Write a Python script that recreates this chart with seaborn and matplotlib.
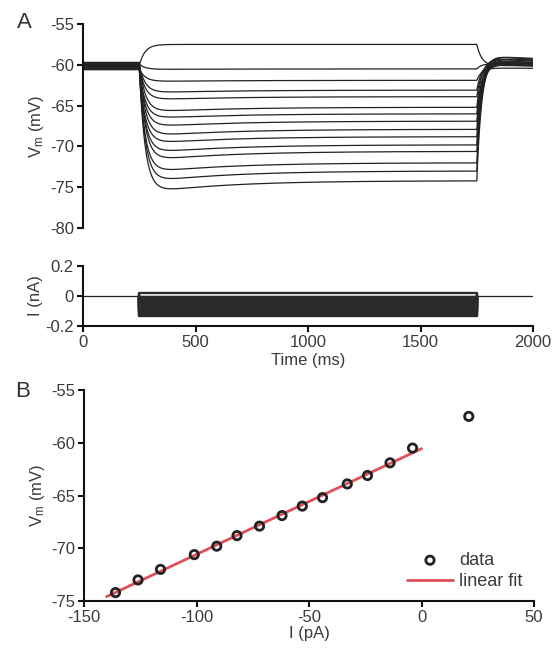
import numpy as np
import pandas as pd
import matplotlib
matplotlib.use("Agg")
import matplotlib.pyplot as plt
import seaborn as sns

# Injected current steps (pA) and steady-state membrane potential (mV)
current_pa = [-136, -126, -116, -101, -91, -82, -72, -62, -53, -44, -33, -24, -14, -4, 21]
vm_mv = [-74.2, -73.0, -72.0, -70.6, -69.8, -68.8, -67.9, -66.9, -66.0, -65.2,
         -63.9, -63.1, -61.9, -60.5, -57.5]
# Resting potential of each sweep before the step (mV)
baseline_mv = [-60.3, -60.0, -60.5, -59.8, -60.2, -60.6, -59.9, -60.1, -60.4,
               -59.7, -60.2, -60.0, -60.5, -59.9, -60.1]

step_on_ms, step_off_ms, sweep_end_ms = 250, 1750, 2000

time_ticks = [0, 500, 1000, 1500, 2000]
vm_ticks_a = [-55, -60, -65, -70, -75, -80]
i_ticks_a = [0.2, 0, -0.2]
i_ticks_b = [-150, -100, -50, 0, 50]
vm_ticks_b = [-55, -60, -65, -70, -75]

sns.set_theme(style="ticks")
plt.rcParams["font.family"] = ["Liberation Sans", "DejaVu Sans"]
plt.rcParams["mathtext.fontset"] = "custom"
plt.rcParams["mathtext.rm"] = "Liberation Sans"
plt.rcParams["mathtext.it"] = "Liberation Sans"
plt.rcParams["axes.linewidth"] = 1.5
plt.rcParams["xtick.major.width"] = 1.5
plt.rcParams["ytick.major.width"] = 1.5
plt.rcParams["xtick.major.size"] = 4
plt.rcParams["ytick.major.size"] = 4
plt.rcParams["xtick.major.pad"] = 2.5
plt.rcParams["ytick.major.pad"] = 2.5
plt.rcParams["xtick.labelsize"] = 12
plt.rcParams["ytick.labelsize"] = 12
plt.rcParams["xtick.color"] = "#111111"
plt.rcParams["ytick.color"] = "#111111"
plt.rcParams["xtick.labelcolor"] = "#3a3a3a"
plt.rcParams["ytick.labelcolor"] = "#3a3a3a"
plt.rcParams["axes.edgecolor"] = "#111111"
plt.rcParams["axes.labelcolor"] = "#3a3a3a"
plt.rcParams["axes.labelsize"] = 12

t = np.arange(0, sweep_end_ms + 1, 1.0)


def sweep_trace(v0, vss):
    """Membrane response to a square current step: RC charging plus a slow
    sag during hyperpolarisation and a rebound after the step ends."""
    d = vss - v0
    v = np.full_like(t, v0)
    on = (t >= step_on_ms) & (t < step_off_ms)
    tp = t[on] - step_on_ms
    charge = 1 - np.exp(-tp / 25.0)
    sag = 0.0
    if d < 0:
        sag = 0.12 * d * (np.exp(-tp / 350.0) - np.exp(-tp / 45.0))
    v[on] = v0 + d * charge + sag
    v_end = v[on][-1]
    off = t >= step_off_ms
    tq = t[off] - step_off_ms
    rebound = 0.0
    if d < 0:
        rebound = -0.09 * d * (np.exp(-tq / 500.0) - np.exp(-tq / 20.0))
    v[off] = v0 + (v_end - v0) * np.exp(-tq / 22.0) + rebound
    return v


vm_rows = []
i_rows = []
for k, (i_pa, v0, vss) in enumerate(zip(current_pa, baseline_mv, vm_mv)):
    vm_rows.append(pd.DataFrame({"time": t, "vm": sweep_trace(v0, vss), "sweep": k}))
    # current step: only the pulse itself, the holding level is drawn once below
    i_rows.append(pd.DataFrame({
        "time": [step_on_ms, step_on_ms, step_off_ms, step_off_ms],
        "i": [0.0, i_pa / 1000.0, i_pa / 1000.0, 0.0],
        "sweep": k,
    }))
vm_df = pd.concat(vm_rows, ignore_index=True)
i_df = pd.concat(i_rows, ignore_index=True)

fig = plt.figure(figsize=(5.56, 6.53), dpi=100)

# --- Panel A: voltage sweeps ---
ax_v = fig.add_axes([0.1493, 0.6508, 0.8094, 0.3124])
sns.lineplot(data=vm_df, x="time", y="vm", units="sweep", estimator=None,
             color="#222222", lw=0.9, ax=ax_v)
ax_v.set_xlim(0, sweep_end_ms)
ax_v.set_ylim(-80, -55)
ax_v.set_yticks(vm_ticks_a)
ax_v.set_yticklabels([str(v) for v in vm_ticks_a])
ax_v.set_xticks([])
ax_v.set_xlabel("")
ax_v.set_ylabel(r"V$_\mathrm{m}$ (mV)", labelpad=3)
for s in ["top", "right", "bottom"]:
    ax_v.spines[s].set_visible(False)

# --- Panel A: injected current ---
ax_i = fig.add_axes([0.1493, 0.5008, 0.8094, 0.0919])
ax_i.axhline(0, xmin=0, xmax=1, color="#222222", lw=0.9, zorder=1)
sns.lineplot(data=i_df, x="time", y="i", units="sweep", estimator=None,
             sort=False, color="#2a2a2a", lw=1.7, ax=ax_i, zorder=2)
ax_i.set_xlim(0, sweep_end_ms)
ax_i.set_ylim(-0.2, 0.2)
ax_i.set_yticks(i_ticks_a)
ax_i.set_yticklabels(["0.2", "0", "-0.2"])
ax_i.set_xticks(time_ticks)
ax_i.set_xticklabels([str(v) for v in time_ticks])
ax_i.set_xlabel("Time (ms)", labelpad=2)
ax_i.set_ylabel("I (nA)", labelpad=2)
sns.despine(ax=ax_i)

# --- Panel B: I-V relation ---
ax_b = fig.add_axes([0.1511, 0.0796, 0.8094, 0.3231])
sns.scatterplot(x=current_pa, y=vm_mv, marker="o", s=36, facecolor="none",
                edgecolor="#222222", linewidth=2.0, label="data", ax=ax_b, zorder=3)
fit = np.polyfit(current_pa[:-1], vm_mv[:-1], 1)
fit_x = np.array([-140.0, 0.0])
sns.lineplot(x=fit_x, y=np.polyval(fit, fit_x), color="#e0505a", lw=2.0,
             label="linear fit", ax=ax_b, zorder=2)
ax_b.set_xlim(-150, 50)
ax_b.set_ylim(-75, -55)
ax_b.set_xticks(i_ticks_b)
ax_b.set_xticklabels([str(v) for v in i_ticks_b])
ax_b.set_yticks(vm_ticks_b)
ax_b.set_yticklabels([str(v) for v in vm_ticks_b])
ax_b.set_xlabel("I (pA)", labelpad=1)
ax_b.set_ylabel(r"V$_\mathrm{m}$ (mV)", labelpad=3)
sns.despine(ax=ax_b)
handles, labels = ax_b.get_legend_handles_labels()
ax_b.legend(handles, labels, loc="lower right", frameon=False, fontsize=13,
            handlelength=2.6, handletextpad=0.33, labelspacing=0.25,
            borderpad=0, borderaxespad=0,
            bbox_to_anchor=(0.975, 0.05), labelcolor="#3a3a3a")

fig.text(0.043, 0.965, "A", fontsize=16, color="#333333", ha="center", va="center")
fig.text(0.041, 0.401, "B", fontsize=16, color="#333333", ha="center", va="center")

fig.savefig("out.png", dpi=100, facecolor="white")
